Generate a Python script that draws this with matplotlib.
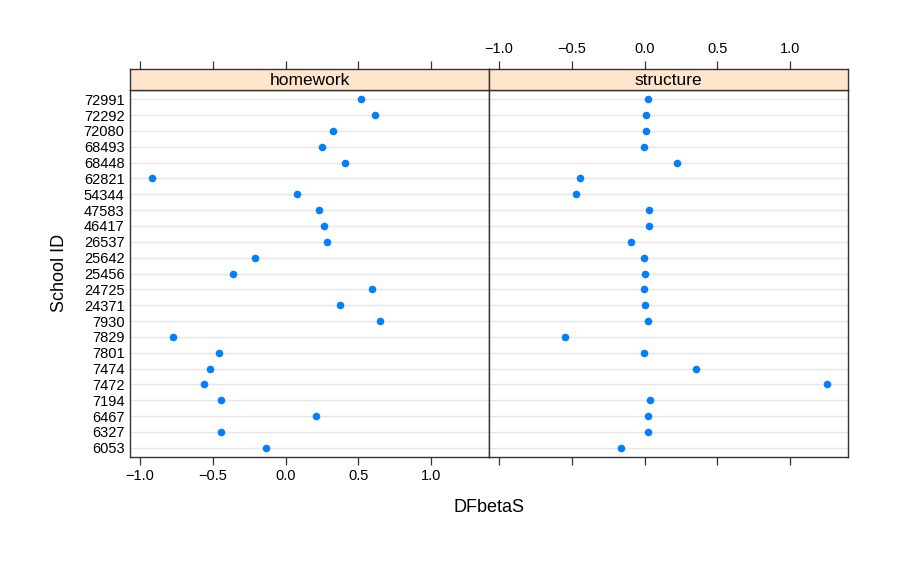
import matplotlib
matplotlib.use("Agg")
import matplotlib.pyplot as plt
import numpy as np

plt.rcParams['font.family'] = ['Liberation Sans', 'DejaVu Sans']

schools = ["72991", "72292", "72080", "68493", "68448", "62821", "54344", "47583",
           "46417", "26537", "25642", "25456", "24725", "24371", "7930", "7829",
           "7801", "7474", "7472", "7194", "6467", "6327", "6053"]
homework = [0.516, 0.617, 0.328, 0.248, 0.406, -0.920, 0.078, 0.230,
            0.262, 0.285, -0.213, -0.361, 0.598, 0.372, 0.649, -0.776,
            -0.458, -0.517, -0.559, -0.444, 0.209, -0.446, -0.135]
structure = [0.025, 0.009, 0.012, -0.005, 0.225, -0.447, -0.468, 0.030,
             0.030, -0.092, -0.007, 0.000, -0.002, 0.000, 0.025, -0.546,
             -0.007, 0.357, 1.253, 0.041, 0.021, 0.025, -0.163]
panels = ["homework", "structure"]
xticks = [-1.0, -0.5, 0.0, 0.5, 1.0]
xlabel = "DFbetaS"
ylabel = "School ID"

W, H = 900, 561
fig = plt.figure(figsize=(W / 100, H / 100), dpi=100)

xlim = (-1.07, 1.40)
n = len(schools)
ypos = np.arange(n, 0, -1)  # top to bottom
lefts = [130, 489]
pw = 359
ptop, pbot = 90, 457
stop = 69

blue = "#0080ff"
strip_col = "#ffe5cc"
data = [homework, structure]
fmt = matplotlib.ticker.FuncFormatter(lambda v, p: ("%.1f" % v).replace("-", "\u2212"))

for i, (name, vals) in enumerate(zip(panels, data)):
    l = lefts[i]
    ax = fig.add_axes([l / W, 1 - pbot / H, pw / W, (pbot - ptop) / H])
    sx = fig.add_axes([l / W, 1 - ptop / H, pw / W, (ptop - stop) / H])
    for y in ypos:
        ax.axhline(y, color="#e6e6e6", lw=1.0, zorder=1)
    ax.scatter(vals, ypos, s=30, color=blue, zorder=3, linewidths=0)
    ax.set_xlim(*xlim)
    ax.set_ylim(0.42, n + 0.58)
    for sp in ax.spines.values():
        sp.set_color("#333333")
        sp.set_linewidth(1.0)
    ax.set_xticks(xticks)
    ax.xaxis.set_major_formatter(fmt)
    ax.tick_params(axis="x", direction="out", length=6, width=0.9, color="#333333",
                   labelsize=10.5, pad=3, bottom=True, top=False,
                   labelbottom=(i == 0))
    if i == 0:
        ax.set_yticks(ypos)
        ax.set_yticklabels(schools)
        ax.tick_params(axis="y", length=0, labelsize=10.5, pad=4)
    else:
        ax.set_yticks([])
    ax.set_facecolor("white")

    sx.set_facecolor(strip_col)
    sx.set_xlim(*xlim)
    sx.set_ylim(0, 1)
    sx.set_yticks([])
    sx.set_xticks(xticks)
    sx.xaxis.set_major_formatter(fmt)
    sx.tick_params(axis="x", direction="out", length=6, width=0.9, color="#333333",
                   labelsize=10.5, pad=3, bottom=False, top=True,
                   labelbottom=False, labeltop=(i == 1))
    for sp in sx.spines.values():
        sp.set_color("#333333")
        sp.set_linewidth(1.0)
    sx.text(0.5, 0.45, name, transform=sx.transAxes, ha="center", va="center",
            fontsize=12.5)

fig.text(489 / W, 1 - 508 / H, xlabel, ha="center", va="center", fontsize=13)
fig.text(60 / W, 1 - 273 / H, ylabel, ha="center", va="center", rotation=90,
         fontsize=13)

fig.savefig("out.png", dpi=100, facecolor="white")
